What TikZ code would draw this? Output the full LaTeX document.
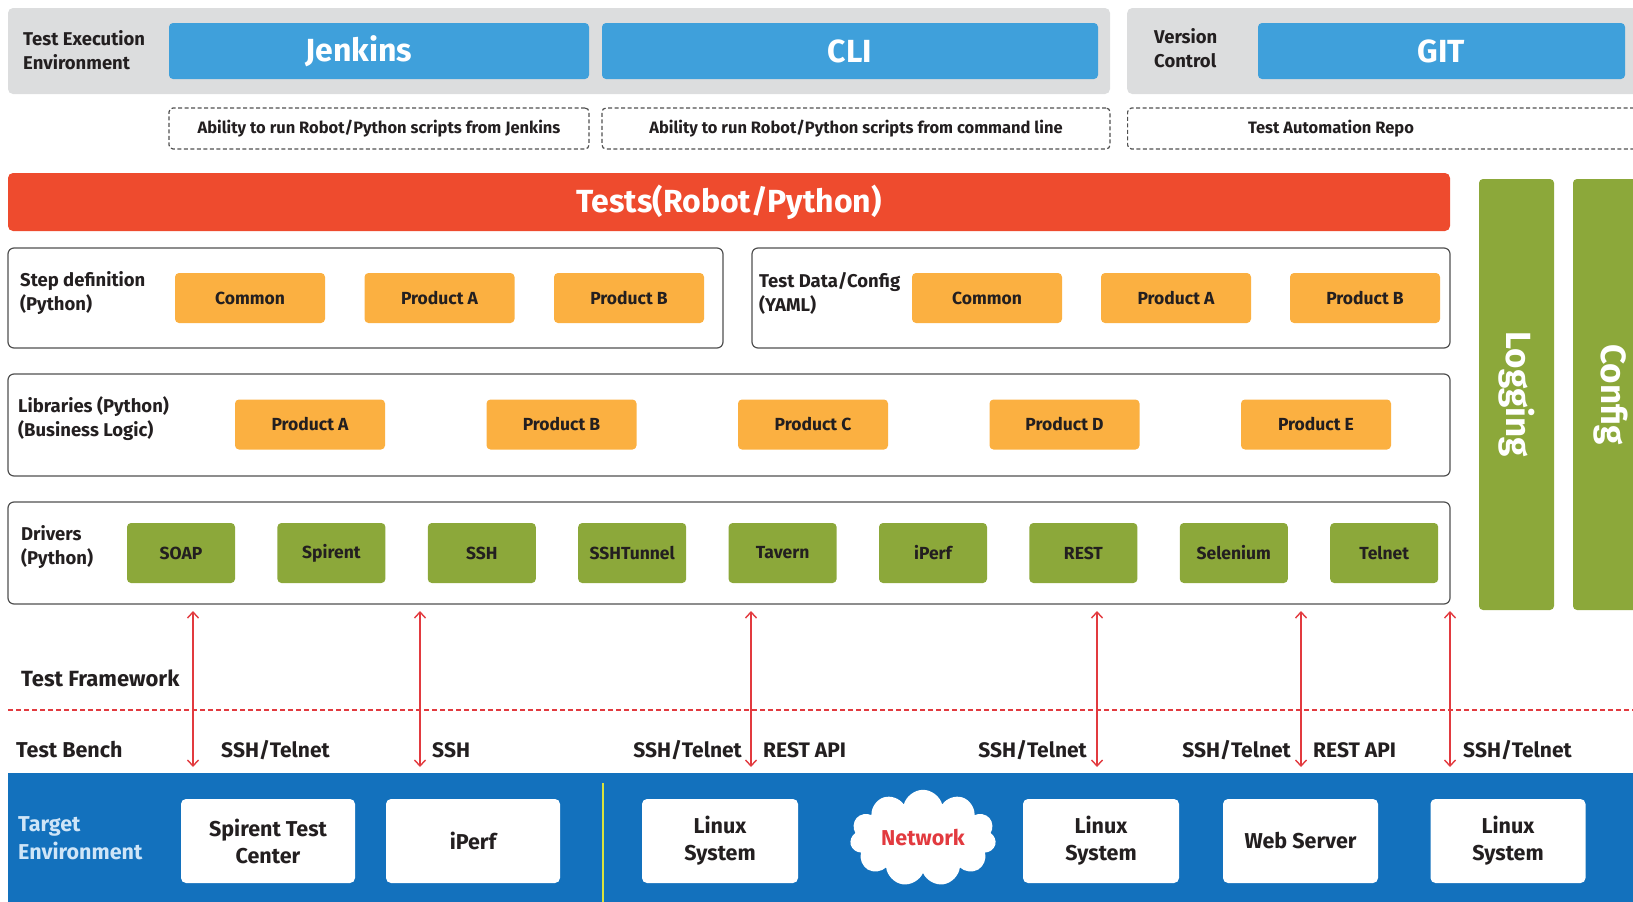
\documentclass[tikz,border=0pt]{standalone}
\usepackage{fontspec}
\setmainfont{Fira Sans}
\usetikzlibrary{positioning, arrows.meta, shapes.symbols}
\definecolor{barGray}{HTML}{DCDDDE}
\definecolor{toolBlue}{HTML}{3FA0DB}
\definecolor{testRed}{HTML}{EE4B2E}
\definecolor{prodOrange}{HTML}{FBB041}
\definecolor{drvGreen}{HTML}{8CA83A}
\definecolor{envBlue}{HTML}{1371BD}
\definecolor{linkRed}{HTML}{E23A3F}
\definecolor{sepYellow}{HTML}{D9E23C}
\definecolor{envText}{HTML}{CFE5F7}
\definecolor{frameGray}{HTML}{505050}
\definecolor{inkBlack}{HTML}{231F20}
\tikzset{
>={Straight Barb[length=6pt, width=11pt]}, % thin open arrow heads
every node/.style={inner sep=0pt, text=inkBlack}, % boxes are sized by hand
bar/.style={fill=barGray, rounded corners=5pt, minimum height=86pt}, % grey header strips
tool/.style={fill=toolBlue, rounded corners=4pt, minimum height=56pt, text=white, font=\bfseries\fontsize{32}{36}\selectfont}, % Jenkins, CLI, GIT
note/.style={draw=frameGray, line width=1.2pt, dash pattern=on 4pt off 2.5pt, rounded corners=4pt, minimum height=41pt, font=\bfseries\fontsize{16.5}{18}\selectfont},
sidetext/.style={align=left, anchor=west, font=\bfseries\fontsize{18.5}{24}\selectfont}, % row titles
testbar/.style={fill=testRed, rounded corners=5pt, minimum width=1442pt, minimum height=58pt, text=white, font=\bfseries\fontsize{32}{36}\selectfont},
sidebar/.style={fill=drvGreen, rounded corners=4pt, rotate=-90, minimum width=431pt, minimum height=75pt, text=white, font=\bfseries\fontsize{35}{38}\selectfont},
group/.style={draw=frameGray, line width=1.2pt, rounded corners=6pt, minimum height=100pt},
prod/.style={fill=prodOrange, rounded corners=4pt, minimum width=150pt, minimum height=50pt, font=\bfseries\fontsize{17.5}{19}\selectfont},
drv/.style={fill=drvGreen, rounded corners=4pt, minimum width=108pt, minimum height=60pt, font=\bfseries\fontsize{17.5}{19}\selectfont},
link/.style={draw=linkRed, line width=1.4pt, <->},
proto/.style={font=\bfseries\fontsize{21}{23}\selectfont}, % protocol names on the links
target/.style={fill=white, rounded corners=5pt, minimum height=84pt, align=center, font=\bfseries\fontsize{21.5}{27}\selectfont},
}
\begin{document}
\begin{tikzpicture}[x=1pt, y=-1pt]
    \useasboundingbox (0,0) rectangle (1633,902);
    \clip (0,0) rectangle (1633,902);
    % header
    \node[bar, minimum width=1102pt] (execbar) at (559,51) {};
    \node[bar, minimum width=530pt, anchor=west] (vcsbar) at (1127,51) {};
    \node[sidetext] (execlbl) at (23,50) {Test Execution\\Environment};
    \node[sidetext] (vcslbl) at (1154,48) {Version\\Control};
    \node[tool, minimum width=420pt] (jenkins) at (379,51) {Jenkins\hspace*{40pt}};
    \node[tool, minimum width=496pt] (cli) at (850,51) {CLI};
    \node[tool, minimum width=367pt] (git) at (1441.5,51) {GIT};
    \node[note, minimum width=420pt] (n1) at (379,128.5) {Ability to run Robot/Python scripts from Jenkins};
    \node[note, minimum width=508pt] (n2) at (856,128.5) {Ability to run Robot/Python scripts from command line};
    \node[note, minimum width=530pt, anchor=west] (n3) at (1127,128.5) {};
    \node[font=\bfseries\fontsize{16.5}{18}\selectfont] (n3txt) at (1331,128.5) {Test Automation Repo};

    % framework
    \node[testbar] (tests) at (729,202) {Tests(Robot/Python)};
    \node[sidebar] (logging) at (1516.5,394.5) {Logging};
    \node[sidebar] (config) at (1610.5,394.5) {Config};

    \node[group, minimum width=715pt] (stepdef) at (365.5,298) {};
    \node[sidetext] (steplbl) at (20,293) {Step definition\\(Python)};
    \node[prod] (s0) at (250,298) {Common};
    \node[prod, right of=s0, node distance=189.5pt] (s1) {Product A};
    \node[prod, right of=s1, node distance=189.5pt] (s2) {Product B};

    \node[group, minimum width=698pt] (testdata) at (1101,298) {};
    \node[sidetext] (datalbl) at (759,293) {Test Data/Config\\(YAML)};
    \node[prod] (d0) at (987,298) {Common};
    \node[prod, right of=d0, node distance=189pt] (d1) {Product A};
    \node[prod, right of=d1, node distance=189pt] (d2) {Product B};

    \node[group, minimum width=1442pt, minimum height=102pt] (libs) at (729,425) {};
    \node[sidetext] (liblbl) at (18,419) {Libraries (Python)\\(Business Logic)};
    \node[prod] (l0) at (310,424.5) {Product A};
    \node[prod, right of=l0, node distance=251.5pt] (l1) {Product B};
    \node[prod, right of=l1, node distance=251.5pt] (l2) {Product C};
    \node[prod, right of=l2, node distance=251.5pt] (l3) {Product D};
    \node[prod, right of=l3, node distance=251.5pt] (l4) {Product E};

    \node[group, minimum width=1442pt, minimum height=102pt] (drivers) at (729,553) {};
    \node[sidetext] (drvlbl) at (21,547) {Drivers\\(Python)};
    \node[drv] (v0) at (181,553) {SOAP};
    \node[drv, right of=v0, node distance=150.4pt] (v1) {Spirent};
    \node[drv, right of=v1, node distance=150.4pt] (v2) {SSH};
    \node[drv, right of=v2, node distance=150.4pt] (v3) {SSHTunnel};
    \node[drv, right of=v3, node distance=150.4pt] (v4) {Tavern};
    \node[drv, right of=v4, node distance=150.4pt] (v5) {iPerf};
    \node[drv, right of=v5, node distance=150.4pt] (v6) {REST};
    \node[drv, right of=v6, node distance=150.4pt] (v7) {Selenium};
    \node[drv, right of=v7, node distance=150.4pt] (v8) {Telnet};

    % split between framework and bench
    \node[sidetext, font=\bfseries\fontsize{22}{24}\selectfont] (fwlbl) at (21,678) {Test Framework};
    \coordinate (cutl) at (8,710);
    \coordinate (cutr) at (1633,710);
    \draw[linkRed, dash pattern=on 5pt off 3pt, line width=1.2pt] (cutl) -- (cutr);
    \node[sidetext, font=\bfseries\fontsize{21.5}{24}\selectfont] (benchlbl) at (16,750) {Test Bench};

    % target environment
    \node[fill=envBlue, minimum width=1640pt, minimum height=140pt, anchor=north west] (targetenv) at (8,773) {};
    \node[sidetext, text=envText, font=\bfseries\fontsize{21.5}{28}\selectfont] (envlbl) at (18,838) {Target\\Environment};
    \coordinate (septop) at (603,783);
    \coordinate (sepbot) at (603,902);
    \draw[sepYellow, line width=2pt] (septop) -- (sepbot);
    \node[target, minimum width=174pt] (spirent) at (268,841) {Spirent Test\\Center};
    \node[target, minimum width=174pt] (iperf) at (473,841) {iPerf};
    \node[target, minimum width=156pt] (linux1) at (720,841) {Linux\\System};
    \node[cloud, cloud puffs=11, aspect=1.6, fill=white, minimum width=146pt, minimum height=88pt, text=linkRed, font=\bfseries\fontsize{21.5}{23}\selectfont] (network) at (923,838) {Network};
    \node[target, minimum width=156pt] (linux2) at (1101,841) {Linux\\System};
    \node[target, minimum width=155pt] (web) at (1300.5,841) {Web Server};
    \node[target, minimum width=155pt] (linux3) at (1508,841) {Linux\\System};

    % links between drivers and targets
    \coordinate (a0) at (193,611);   \coordinate (b0) at (193,767);
    \coordinate (a1) at (420,611);   \coordinate (b1) at (420,767);
    \coordinate (a2) at (751,611);   \coordinate (b2) at (751,767);
    \coordinate (a3) at (1097,611);  \coordinate (b3) at (1097,767);
    \coordinate (a4) at (1301,611);  \coordinate (b4) at (1301,767);
    \coordinate (a5) at (1450,611);  \coordinate (b5) at (1450,767);
    \draw[link] (a0) -- (b0);
    \draw[link] (a1) -- (b1);
    \draw[link] (a2) -- (b2);
    \draw[link] (a3) -- (b3);
    \draw[link] (a4) -- (b4);
    \draw[link] (a5) -- (b5);
    \node[proto, anchor=west] (p0) at (221,750) {SSH/Telnet};
    \node[proto, anchor=west] (p1) at (432,750) {SSH};
    \node[proto, anchor=east] (p2) at (742,750) {SSH/Telnet};
    \node[proto, anchor=west] (p3) at (763,750) {REST API};
    \node[proto, anchor=east] (p4) at (1087,750) {SSH/Telnet};
    \node[proto, anchor=east] (p5) at (1291,750) {SSH/Telnet};
    \node[proto, anchor=west] (p6) at (1313,750) {REST API};
    \node[proto, anchor=west] (p7) at (1463,750) {SSH/Telnet};
  \end{tikzpicture}
\end{document}
